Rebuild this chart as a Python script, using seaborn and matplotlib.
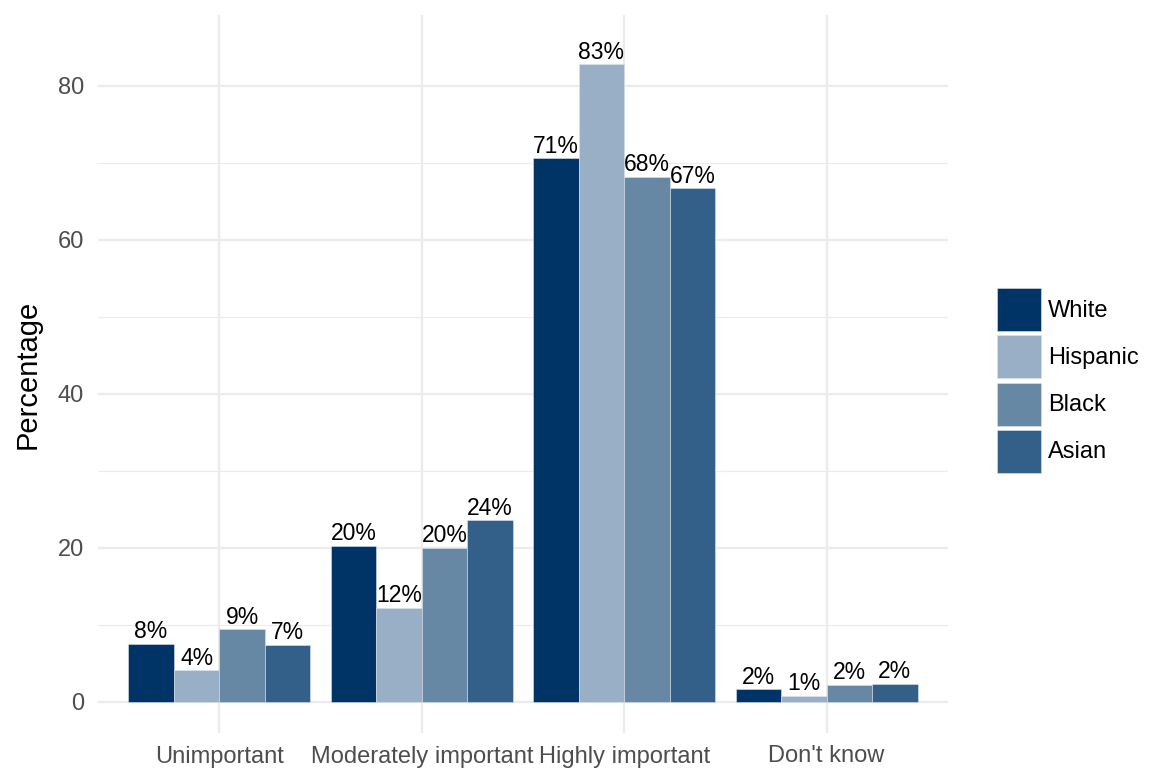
import matplotlib
matplotlib.use("Agg")
import matplotlib.pyplot as plt
import seaborn as sns
import pandas as pd
from matplotlib.ticker import MultipleLocator

categories = ["Unimportant", "Moderately important", "Highly important", "Don't know"]
groups = ["White", "Hispanic", "Black", "Asian"]
white = [7.58, 20.26, 70.6, 1.65]
hispanic = [4.12, 12.2, 82.8, 0.78]
black = [9.44, 20.0, 68.2, 2.26]
asian = [7.45, 23.6, 66.7, 2.34]
colors = ["#003366", "#99AFC5", "#6688A5", "#336088"]

series = {"White": white, "Hispanic": hispanic, "Black": black, "Asian": asian}
rows = []
for g in groups:
    for c, v in zip(categories, series[g]):
        rows.append({"category": c, "group": g, "value": v})
df = pd.DataFrame(rows)

sns.set_theme(style="white")
plt.rcParams["font.family"] = ["Liberation Sans", "DejaVu Sans"]

fig = plt.figure(figsize=(11.7, 7.8), dpi=100)
W, H = 1170, 780
ax = fig.add_axes([98 / W, 1 - 733 / H, (948 - 98) / W, (733 - 15) / H])

sns.barplot(data=df, x="category", y="value", hue="group", order=categories,
            hue_order=groups, palette=colors, saturation=1, width=0.9, gap=0, ax=ax,
            edgecolor="#DDE3EA", linewidth=0.4, errorbar=None, legend=True, zorder=3)

for cont, g in zip(ax.containers, groups):
    labels = [f"{round(v):.0f}%" for v in series[g]]
    ax.bar_label(cont, labels=labels, padding=0.5, fontsize=16.5, color="black", zorder=4)

ax.set_xlim(-0.6, 3.6)
ax.set_ylim(-4.03, 89.2)
ax.yaxis.set_major_locator(MultipleLocator(20))
ax.yaxis.set_minor_locator(MultipleLocator(10))
ax.grid(which="major", axis="both", color="#EBEBEB", linewidth=1.6, zorder=0)
ax.grid(which="minor", axis="y", color="#EBEBEB", linewidth=0.8, zorder=0)
ax.set_axisbelow(True)
for s in ax.spines.values():
    s.set_visible(False)
ax.tick_params(axis="both", which="both", length=0, labelsize=17, labelcolor="#4D4D4D")
ax.tick_params(axis="y", pad=10)
ax.tick_params(axis="x", pad=9)
ax.set_xlabel("")
ax.set_ylabel("Percentage", fontsize=21, color="black")
ax.yaxis.set_label_coords(-0.066, 0.5)

handles, labs = ax.get_legend_handles_labels()
ax.get_legend().remove()
fig.legend(handles, labs, loc="center left",
           bbox_to_anchor=(997 / W, 1 - 380.5 / H), frameon=False, fontsize=17,
           handlelength=1.86, handleheight=2.43, labelspacing=0.17,
           handletextpad=0.3, borderpad=0, borderaxespad=0, labelcolor="black")

fig.savefig("out.png", dpi=100)
